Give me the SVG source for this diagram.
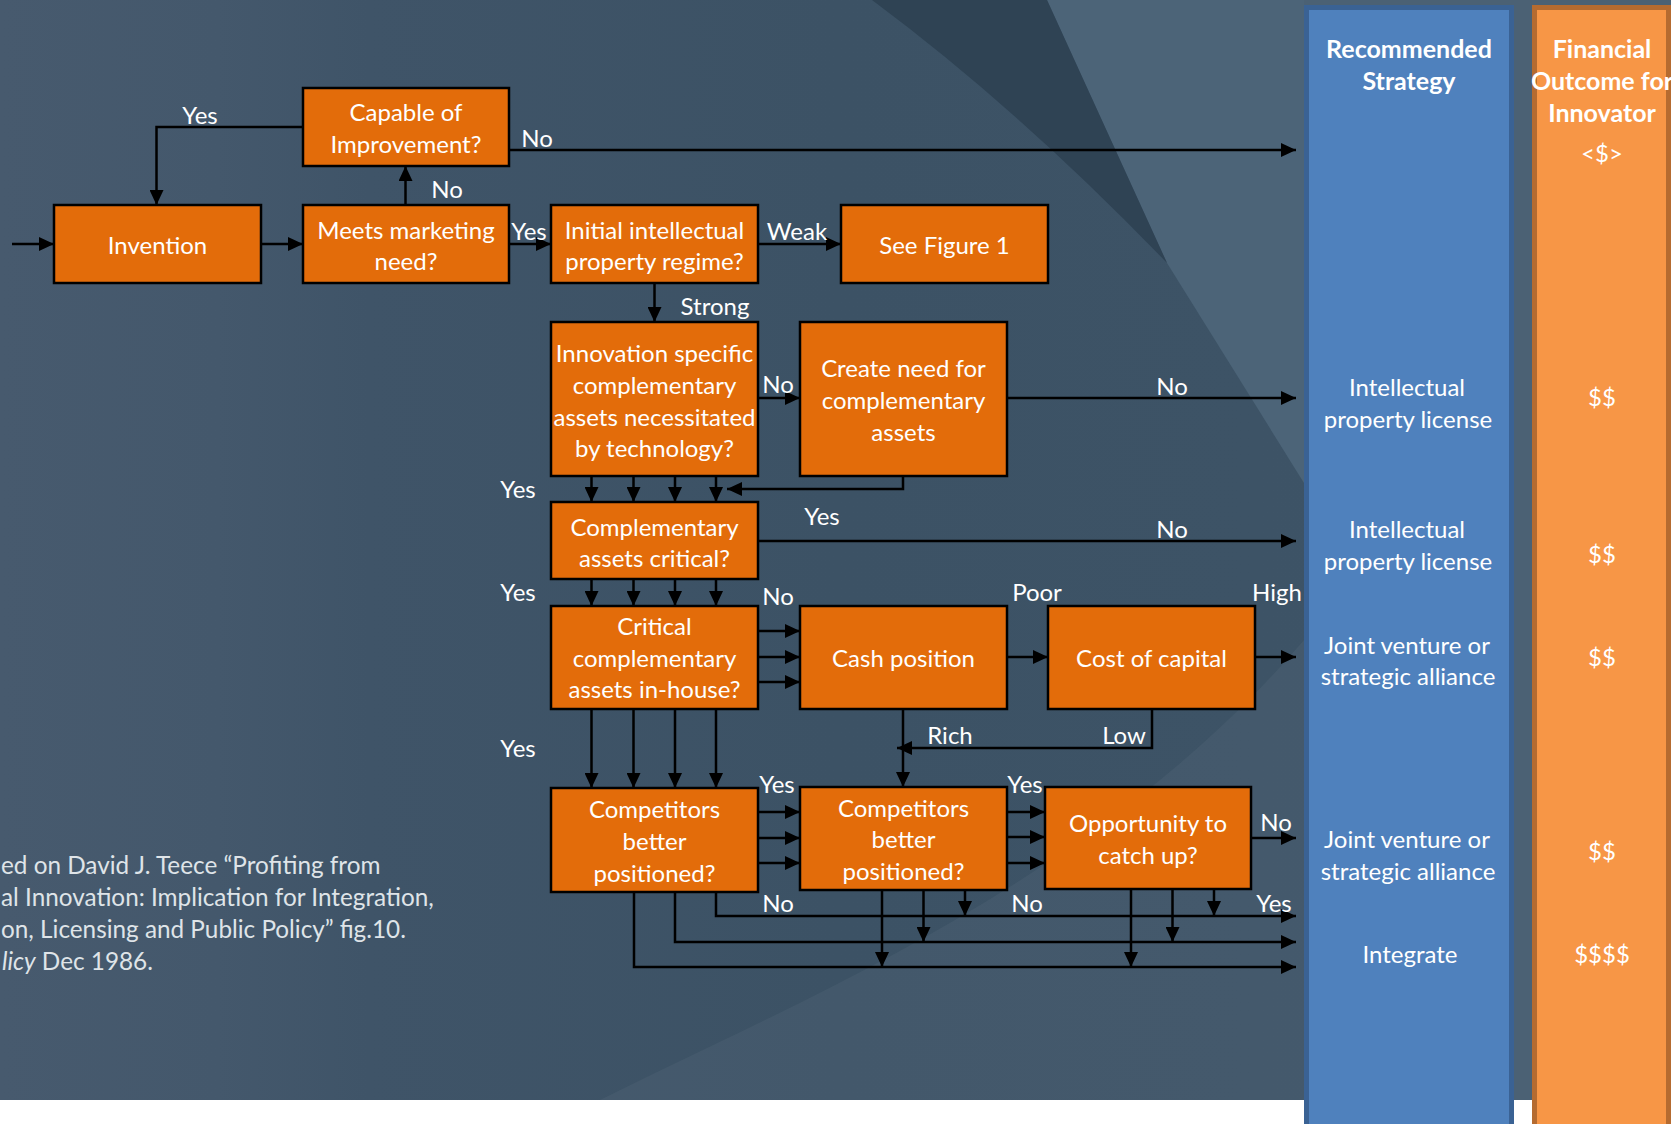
<svg xmlns="http://www.w3.org/2000/svg" width="1678" height="1124" viewBox="0 0 1678 1124">
  <defs>
    <linearGradient id="slide" x1="0" y1="0" x2="1" y2="0">
      <stop offset="0" stop-color="#475a6e"/>
      <stop offset="0.13" stop-color="#44586c"/>
      <stop offset="0.22" stop-color="#3f5468"/>
      <stop offset="0.5" stop-color="#3c5265"/>
      <stop offset="1" stop-color="#3e5467"/>
    </linearGradient>
    <marker id="ah" viewBox="0 0 15 14" refX="15" refY="7" markerWidth="15" markerHeight="14" markerUnits="userSpaceOnUse" orient="auto">
      <path d="M0,0 L15,7 L0,14 Z" fill="#000"/>
    </marker>
    <style>
      .box { fill: #e36c0a; stroke: #000; stroke-width: 2.5; }
      .bt { font-family: Lato, "Open Sans", "Liberation Sans", sans-serif; font-size: 24px; fill: #fff; text-anchor: middle; }
      .lbl { font-family: Lato, "Open Sans", "Liberation Sans", sans-serif; font-size: 24px; fill: #fff; text-anchor: middle; }
      .hd { font-family: Lato, "Open Sans", "Liberation Sans", sans-serif; font-size: 25px; font-weight: bold; fill: #fff; text-anchor: middle; }
      .ct { font-family: Lato, "Open Sans", "Liberation Sans", sans-serif; font-size: 24px; fill: #fff; text-anchor: middle; }
      .cite { font-family: Lato, "Open Sans", "Liberation Sans", sans-serif; font-size: 24.3px; fill: #dfe4e8; text-anchor: start; }
      .wire { fill: none; stroke: #000; stroke-width: 2.5; }
      .arr { marker-end: url(#ah); }
    </style>
  </defs>

  <!-- page and slide background -->
  <rect x="0" y="0" width="1678" height="1124" fill="#ffffff"/>
  <rect x="0" y="0" width="1671" height="1100" fill="url(#slide)"/>
  <rect x="1304" y="0" width="367" height="1100" fill="#4b6174"/>
  <path d="M1047,0 L1304,0 L1304,483 L1167,263 Z" fill="#4c6478"/>
  <path d="M872,0 L1047,0 L1167,263 Q1020,110 872,0 Z" fill="#2f4354"/>
  <path d="M600,1100 C800,1000 1100,880 1304,640 L1304,1100 Z" fill="#ffffff" fill-opacity="0.04"/>

  <!-- outcome columns -->
  <g id="col-strategy">
    <rect x="1306.5" y="7.5" width="205" height="1130" fill="#4f81bd" stroke="#3a6294" stroke-width="5"/>
    <text class="hd"><tspan x="1409" y="58">Recommended</tspan><tspan x="1409" y="90">Strategy</tspan></text>
    <text class="ct"><tspan x="1407" y="396">Intellectual</tspan><tspan x="1408" y="428">property license</tspan></text>
    <text class="ct"><tspan x="1407" y="538">Intellectual</tspan><tspan x="1408" y="570">property license</tspan></text>
    <text class="ct"><tspan x="1407" y="654">Joint venture or</tspan><tspan x="1408" y="685">strategic alliance</tspan></text>
    <text class="ct"><tspan x="1407" y="848">Joint venture or</tspan><tspan x="1408" y="880">strategic alliance</tspan></text>
    <text class="ct" x="1410" y="963">Integrate</text>
  </g>
  <g id="col-outcome">
    <rect x="1534.5" y="7.5" width="134" height="1130" fill="#f79646" stroke="#b56b30" stroke-width="5"/>
    <text class="hd"><tspan x="1602" y="58">Financial</tspan><tspan x="1602" y="90">Outcome for</tspan><tspan x="1602" y="122">Innovator</tspan></text>
    <text class="ct" x="1602" y="162">&lt;$&gt;</text>
    <text class="ct" x="1602" y="406">$$</text>
    <text class="ct" x="1602" y="563">$$</text>
    <text class="ct" x="1602" y="666">$$</text>
    <text class="ct" x="1602" y="860">$$</text>
    <text class="ct" x="1602" y="963">$$$$</text>
  </g>

  <!-- connectors -->
  <g id="connectors" class="wire">
    <path class="arr" d="M12,244 H54"/>
    <path class="arr" d="M261,244 H303"/>
    <path class="arr" d="M509,244 H551"/>
    <path class="arr" d="M405.5,205 V166"/>
    <path class="arr" d="M303,127 H156.5 V205"/>
    <path class="arr" d="M509,150 H1296"/>
    <path class="arr" d="M758,244 H841"/>
    <path class="arr" d="M654.5,283 V322"/>
    <path class="arr" d="M758,398 H800"/>
    <path class="arr" d="M1007,398 H1296"/>
    <path class="arr" d="M591.5,476 V502"/>
    <path class="arr" d="M633.5,476 V502"/>
    <path class="arr" d="M675,476 V502"/>
    <path class="arr" d="M716,476 V502"/>
    <path class="arr" d="M903,476 V489 H727"/>
    <path class="arr" d="M758,541 H1296"/>
    <path class="arr" d="M591.5,579 V606"/>
    <path class="arr" d="M633.5,579 V606"/>
    <path class="arr" d="M675,579 V606"/>
    <path class="arr" d="M716,579 V606"/>
    <path class="arr" d="M758,631 H800"/>
    <path class="arr" d="M758,657 H800"/>
    <path class="arr" d="M758,682 H800"/>
    <path class="arr" d="M1007,657 H1048"/>
    <path class="arr" d="M1255,657 H1296"/>
    <path class="arr" d="M591.5,709 V788"/>
    <path class="arr" d="M633.5,709 V788"/>
    <path class="arr" d="M675,709 V788"/>
    <path class="arr" d="M716,709 V788"/>
    <path class="arr" d="M903,709 V787"/>
    <path class="arr" d="M1152,709 V748 H897"/>
    <path class="arr" d="M758,812 H800"/>
    <path class="arr" d="M758,838 H800"/>
    <path class="arr" d="M758,863 H800"/>
    <path class="arr" d="M1007,812 H1045"/>
    <path class="arr" d="M1007,837 H1045"/>
    <path class="arr" d="M1007,863 H1045"/>
    <path class="arr" d="M1251,838 H1296"/>
    <path class="arr" d="M716,892 V916 H1296"/>
    <path class="arr" d="M675,892 V942 H1296"/>
    <path class="arr" d="M634,892 V967 H1296"/>
    <path class="arr" d="M965,890 V916"/>
    <path class="arr" d="M923.5,890 V942"/>
    <path class="arr" d="M882,890 V967"/>
    <path class="arr" d="M1214,889 V916"/>
    <path class="arr" d="M1172.5,889 V942"/>
    <path class="arr" d="M1131,889 V967"/>
  </g>

  <!-- connector labels -->
  <g id="labels" class="lbl">
    <text x="200" y="124">Yes</text>
    <text x="537" y="147">No</text>
    <text x="447" y="198">No</text>
    <text x="529" y="240">Yes</text>
    <text x="797" y="240">Weak</text>
    <text x="715" y="315">Strong</text>
    <text x="778" y="393">No</text>
    <text x="1172" y="395">No</text>
    <text x="518" y="498">Yes</text>
    <text x="822" y="525">Yes</text>
    <text x="1172" y="538">No</text>
    <text x="518" y="601">Yes</text>
    <text x="778" y="605">No</text>
    <text x="1037" y="601">Poor</text>
    <text x="1277" y="601">High</text>
    <text x="518" y="757">Yes</text>
    <text x="950" y="744">Rich</text>
    <text x="1124" y="744">Low</text>
    <text x="777" y="793">Yes</text>
    <text x="1025" y="793">Yes</text>
    <text x="1276" y="831">No</text>
    <text x="778" y="912">No</text>
    <text x="1027" y="912">No</text>
    <text x="1274" y="912">Yes</text>
  </g>

  <!-- decision and process boxes -->
  <g id="invention">
    <rect class="box" x="54" y="205" width="207" height="78"/>
    <text class="bt" x="157.5" y="254">Invention</text>
  </g>
  <g id="capable">
    <rect class="box" x="303" y="88" width="206" height="78"/>
    <text class="bt"><tspan x="406" y="121">Capable of</tspan><tspan x="406" y="153">Improvement?</tspan></text>
  </g>
  <g id="meets-need">
    <rect class="box" x="303" y="205" width="206" height="78"/>
    <text class="bt"><tspan x="406" y="239">Meets marketing</tspan><tspan x="406" y="270">need?</tspan></text>
  </g>
  <g id="ip-regime">
    <rect class="box" x="551" y="205" width="207" height="78"/>
    <text class="bt"><tspan x="654.5" y="239">Initial intellectual</tspan><tspan x="654.5" y="270">property regime?</tspan></text>
  </g>
  <g id="see-figure">
    <rect class="box" x="841" y="205" width="207" height="78"/>
    <text class="bt" x="944.5" y="254">See Figure 1</text>
  </g>
  <g id="innovation-specific">
    <rect class="box" x="551" y="322" width="207" height="154"/>
    <text class="bt"><tspan x="654.5" y="362">Innovation specific</tspan><tspan x="654.5" y="394">complementary</tspan><tspan x="654.5" y="426">assets necessitated</tspan><tspan x="654.5" y="457">by technology?</tspan></text>
  </g>
  <g id="create-need">
    <rect class="box" x="800" y="322" width="207" height="154"/>
    <text class="bt"><tspan x="903.5" y="377">Create need for</tspan><tspan x="903.5" y="409">complementary</tspan><tspan x="903.5" y="441">assets</tspan></text>
  </g>
  <g id="assets-critical">
    <rect class="box" x="551" y="502" width="207" height="77"/>
    <text class="bt"><tspan x="654.5" y="536">Complementary</tspan><tspan x="654.5" y="567">assets critical?</tspan></text>
  </g>
  <g id="in-house">
    <rect class="box" x="551" y="606" width="207" height="103"/>
    <text class="bt"><tspan x="654.5" y="635">Critical</tspan><tspan x="654.5" y="667">complementary</tspan><tspan x="654.5" y="698">assets in-house?</tspan></text>
  </g>
  <g id="cash-position">
    <rect class="box" x="800" y="606" width="207" height="103"/>
    <text class="bt" x="903.5" y="667">Cash position</text>
  </g>
  <g id="cost-of-capital">
    <rect class="box" x="1048" y="606" width="207" height="103"/>
    <text class="bt" x="1151.5" y="667">Cost of capital</text>
  </g>
  <g id="competitors-1">
    <rect class="box" x="551" y="788" width="207" height="104"/>
    <text class="bt"><tspan x="654.5" y="818">Competitors</tspan><tspan x="654.5" y="850">better</tspan><tspan x="654.5" y="882">positioned?</tspan></text>
  </g>
  <g id="competitors-2">
    <rect class="box" x="800" y="787" width="207" height="103"/>
    <text class="bt"><tspan x="903.5" y="817">Competitors</tspan><tspan x="903.5" y="848">better</tspan><tspan x="903.5" y="880">positioned?</tspan></text>
  </g>
  <g id="catch-up">
    <rect class="box" x="1045" y="787" width="206" height="102"/>
    <text class="bt"><tspan x="1148" y="832">Opportunity to</tspan><tspan x="1148" y="864">catch up?</tspan></text>
  </g>

  <!-- source note -->
  <g id="source-note" class="cite">
    <text x="1" y="874">ed on David J. Teece “Profiting from</text>
    <text x="1" y="906">al Innovation: Implication for Integration,</text>
    <text x="1" y="938">on, Licensing and Public Policy” fig.10.</text>
    <text x="2" y="970"><tspan font-style="italic">licy</tspan> Dec 1986.</text>
  </g>
</svg>
